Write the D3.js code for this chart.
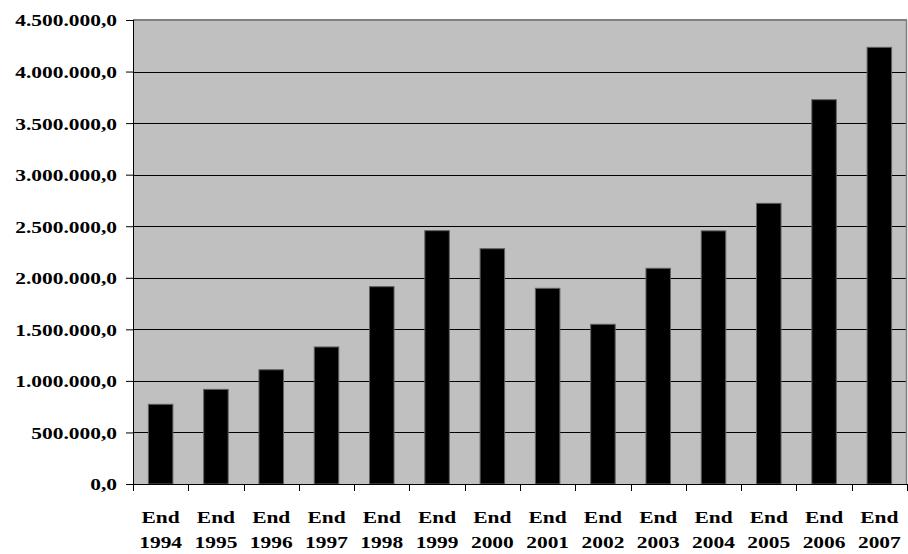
<!DOCTYPE html>
<html>
<head>
<meta charset="utf-8">
<script src="https://cdn.jsdelivr.net/npm/d3@7"></script>
<style>
  html, body { margin: 0; padding: 0; background: #fff; }
  svg { display: block; }
  text { font-family: "Liberation Serif", "Times New Roman", serif; font-weight: bold; font-size: 16.5px; fill: #000; }
</style>
</head>
<body>
<svg id="chart" width="908" height="554"></svg>
<script>
const categories = ["1994","1995","1996","1997","1998","1999","2000","2001","2002","2003","2004","2005","2006","2007"];
const values = [773000, 918000, 1108000, 1329000, 1914000, 2457000, 2282000, 1898000, 1549000, 2092000, 2455000, 2722000, 3727000, 4235000];
const yTicks = [0, 500000, 1000000, 1500000, 2000000, 2500000, 3000000, 3500000, 4000000, 4500000];
const categoryPrefix = "End";

const W = 908, H = 554;
const m = { left: 133, right: 1, top: 20, bottom: 70 };
const plotW = W - m.left - m.right, plotH = H - m.top - m.bottom;
const SX = 1.3; // horizontal stretch of text in the original

const svg = d3.select("#chart");
const g = svg.append("g").attr("transform", `translate(${m.left},${m.top})`);

const x = d3.scaleBand().domain(categories).range([0, plotW]).paddingInner(0.557).paddingOuter(0.557 / 2);
const y = d3.scaleLinear().domain([0, 4500000]).range([plotH, 0]);

const loc = d3.formatLocale({ decimal: ",", thousands: ".", grouping: [3], currency: ["", ""] });
const fmt = loc.format(",.1f");

// plot background
g.append("rect").attr("x", 0).attr("y", 0).attr("width", plotW).attr("height", plotH).attr("fill", "#C0C0C0");

// gridlines
g.selectAll("line.grid").data(yTicks.filter(d => d > 0 && d < 4500000)).join("line")
  .attr("class", "grid")
  .attr("x1", 0).attr("x2", plotW)
  .attr("y1", d => Math.round(y(d)) + 0.5).attr("y2", d => Math.round(y(d)) + 0.5)
  .attr("stroke", "#000").attr("stroke-width", 1);

// top & right border
g.append("line").attr("x1", 0).attr("x2", plotW).attr("y1", 0).attr("y2", 0).attr("stroke", "#808080").attr("stroke-width", 2);
g.append("line").attr("x1", plotW - 0.5).attr("x2", plotW - 0.5).attr("y1", 0).attr("y2", plotH).attr("stroke", "#808080").attr("stroke-width", 1.5);

// bars
g.selectAll("rect.bar").data(values).join("rect")
  .attr("class", "bar")
  .attr("x", (d, i) => x(categories[i]))
  .attr("width", x.bandwidth())
  .attr("y", d => y(d))
  .attr("height", d => plotH - y(d))
  .attr("fill", "#000").attr("stroke", "#606060").attr("stroke-width", 1);

// y axis
const yAxis = g.append("g").call(d3.axisLeft(y).tickValues(yTicks).tickFormat(fmt).tickSize(7).tickPadding(0));
yAxis.attr("font-family", null).attr("font-size", null);
yAxis.select(".domain").attr("stroke", "#000").attr("d", `M0.5,0V${plotH}`);
yAxis.selectAll(".tick line").attr("stroke", "#000");
yAxis.selectAll(".tick text")
  .attr("x", -16 / SX).attr("dy", "0.36em")
  .attr("text-anchor", "end")
  .attr("transform", `scale(${SX},1)`);

// x axis
const xAxis = g.append("g").attr("transform", `translate(0,${plotH})`)
  .call(d3.axisBottom(x).tickSize(0).tickFormat(""));
xAxis.attr("font-family", null).attr("font-size", null);
xAxis.select(".domain").attr("stroke", "#000").attr("d", `M0,0.5H${plotW}`);
xAxis.selectAll(".tick line").remove();
// category boundary tick marks
const bounds = categories.map((c, i) => i * x.step()).concat([plotW]);
xAxis.selectAll("line.bt").data(bounds).join("line")
  .attr("class", "bt")
  .attr("x1", d => Math.round(d) + 0.5).attr("x2", d => Math.round(d) + 0.5)
  .attr("y1", 0).attr("y2", 7).attr("stroke", "#000");

const lab = xAxis.selectAll("g.lab").data(categories).join("g")
  .attr("class", "lab")
  .attr("transform", d => `translate(${x(d) + x.bandwidth() / 2},0) scale(${SX},1)`);
lab.append("text").attr("text-anchor", "middle").attr("y", 39).text(categoryPrefix);
lab.append("text").attr("text-anchor", "middle").attr("y", 64).text(d => d);
</script>
</body>
</html>
